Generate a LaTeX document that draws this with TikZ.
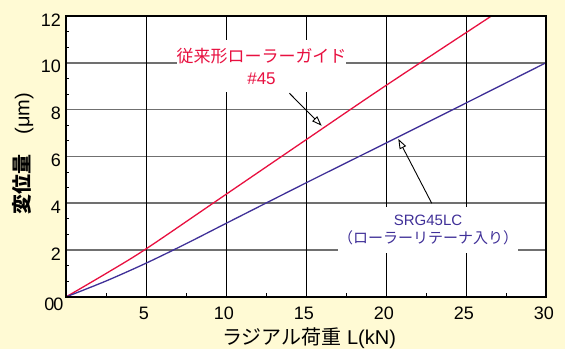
\documentclass[tikz,border=0pt]{standalone}
\usepackage{fontspec}
\setmainfont{Liberation Sans}
\newfontfamily\jp{Noto Sans CJK JP}
\usetikzlibrary{arrows.meta,positioning}

\definecolor{paper}{RGB}{255,250,212}
\definecolor{guidered}{RGB}{232,16,64}
\definecolor{srgblue}{RGB}{64,48,152}
\definecolor{gridgray}{RGB}{112,112,112}

\tikzset{
  ticklabel/.style={font=\fontsize{18}{20}\selectfont, inner sep=0pt},
  callout/.style={line width=0.9pt, -{Triangle[open, length=10pt, width=7pt]}},
  tag/.style={fill=white, inner xsep=0pt, inner ysep=8pt, align=center}
}

\begin{document}
\begin{tikzpicture}[x=16pt, y=23.42pt]

\useasboundingbox[fill=paper] (-4.125,-2.22) rectangle (31.19,12.68);
\fill [white] (0,0) rectangle (30,12);

\foreach \y in {2,4,...,10}
    \draw [gridgray, line width=1.6pt] (0,\y) -- (30,\y);
\foreach \x in {5,10,...,25}
    \draw [line width=0.9pt] (\x,0) -- (\x,12);

\foreach \k in {1,2,4,5,7,8,10,11,13,14,16,17}
    \draw [line width=0.8pt] (0,{\k*2/3}) -- ++(3pt,0);
\foreach \x in {2.5,7.5,...,27.5}
    \draw [line width=0.8pt] (\x,0) -- ++(0,4pt);

\foreach \y in {2,4,...,12}
    \path (0,\y) node [ticklabel, left=5pt, yshift=-4pt] (ylab\y) {\y};
\foreach \x in {5,10,...,30}
    \path (\x,0) node [ticklabel, below=9.5pt, xshift=-2pt] (xlab\x) {\x};
\path (0,0) node [ticklabel, xshift=-16.5pt, yshift=-7.5pt] (ylab0) {0};
\path (0,0) node [ticklabel, xshift=-7.5pt, yshift=-7.5pt] (xlab0) {0};

\node [font=\fontsize{20}{24}\selectfont] (xtitle) at (15.19,-1.74) {{\jp ラジアル荷重} L(kN)};
\node [font=\fontsize{20}{24}\selectfont, rotate=90] (ytitle) at (-2.69,6.11) {{\jp\bfseries 変位量　}(μm)};

\node [tag, text=guidered, font=\fontsize{17}{22}\selectfont] (guidetag) at (12.22,9.86)
    {{\jp 従来形ローラーガイド}\\\#45};
\node [tag, text=srgblue, font=\fontsize{15}{18}\selectfont] (srgtag) at (22.63,2.86)
    {SRG45LC\\{\jp （ローラーリテーナ入り）}};

\draw [guidered, line width=1.3pt] plot [smooth] coordinates
    {(0,0) (2.5,1.0) (5,2.05) (10,4.38) (15,6.71) (20,9.03) (26.6,12)};
\draw [srgblue, line width=1.3pt] plot [smooth] coordinates
    {(0,0) (2.5,0.68) (5,1.44) (7.5,2.27) (10,3.14) (15,4.87) (20,6.57) (25,8.28) (30,10)};

\coordinate (guidetail) at (13.96,8.70);
\coordinate (guidetip) at (15.98,7.31);
\coordinate (srgtail) at (22.86,4.0);
\coordinate (srgtip) at (20.77,6.75);
\draw [callout] (guidetail) -- (guidetip);
\draw [callout] (srgtail) -- (srgtip);

\draw [line width=2.2pt] (0,0) rectangle (30,12);

\end{tikzpicture}
\end{document}
